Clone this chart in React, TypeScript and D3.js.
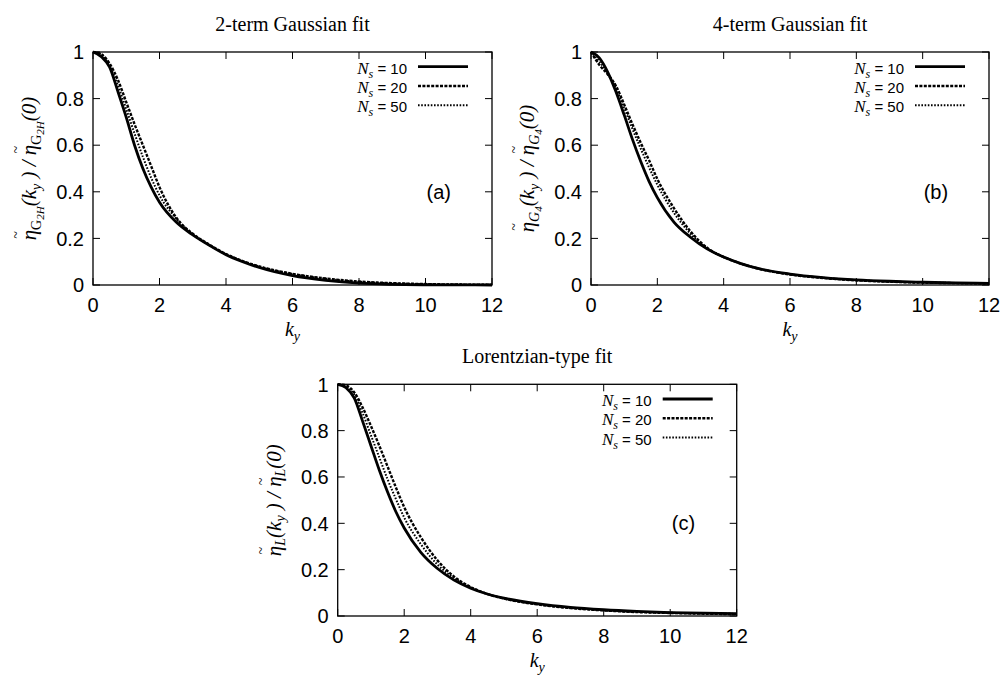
import React from 'react';
import * as d3 from 'd3';

// Wavenumber grid shared by every curve
const kGrid = [0, 0.25, 0.5, 0.75, 1, 1.25, 1.5, 1.75, 2, 2.5, 3, 3.5, 4, 4.5, 5, 6, 7, 8, 9, 10, 11, 12];

// (a) 2-term Gaussian fit
const gauss2Ns10 = [1, 0.98, 0.935, 0.83, 0.72, 0.6, 0.5, 0.42, 0.355, 0.27, 0.215, 0.17, 0.13, 0.1, 0.075, 0.04, 0.02, 0.008, 0.003, 0.001, 0.0003, 0.0001];
const gauss2Ns20 = [1, 0.99, 0.95, 0.88, 0.785, 0.69, 0.6, 0.51, 0.42, 0.29, 0.22, 0.173, 0.133, 0.103, 0.08, 0.048, 0.028, 0.015, 0.008, 0.004, 0.002, 0.001];
const gauss2Ns50 = [1, 0.99, 0.94, 0.855, 0.755, 0.65, 0.55, 0.46, 0.385, 0.285, 0.217, 0.171, 0.132, 0.102, 0.079, 0.047, 0.027, 0.014, 0.007, 0.0035, 0.0018, 0.001];

// (b) 4-term Gaussian fit
const gauss4Ns10 = [1, 0.975, 0.915, 0.83, 0.73, 0.625, 0.53, 0.445, 0.375, 0.27, 0.205, 0.155, 0.12, 0.093, 0.072, 0.047, 0.032, 0.022, 0.016, 0.012, 0.009, 0.007];
const gauss4Ns20 = [1, 0.945, 0.905, 0.855, 0.775, 0.69, 0.61, 0.535, 0.455, 0.33, 0.23, 0.16, 0.12, 0.093, 0.072, 0.045, 0.03, 0.02, 0.014, 0.01, 0.008, 0.006];
const gauss4Ns50 = [1, 0.96, 0.91, 0.845, 0.76, 0.67, 0.585, 0.505, 0.43, 0.31, 0.22, 0.158, 0.12, 0.093, 0.072, 0.046, 0.031, 0.021, 0.015, 0.011, 0.0085, 0.0065];

// (c) Lorentzian-type fit
const lorentzNs10 = [1, 0.985, 0.94, 0.84, 0.735, 0.63, 0.535, 0.45, 0.38, 0.275, 0.205, 0.155, 0.12, 0.095, 0.077, 0.053, 0.037, 0.027, 0.02, 0.015, 0.012, 0.01];
const lorentzNs20 = [1, 0.995, 0.965, 0.9, 0.82, 0.735, 0.645, 0.555, 0.47, 0.34, 0.24, 0.17, 0.125, 0.095, 0.075, 0.05, 0.034, 0.024, 0.017, 0.013, 0.01, 0.008];
const lorentzNs50 = [1, 0.99, 0.955, 0.875, 0.78, 0.685, 0.59, 0.505, 0.425, 0.31, 0.222, 0.163, 0.123, 0.095, 0.076, 0.051, 0.035, 0.025, 0.018, 0.014, 0.011, 0.009];

const xTickValues = [0, 2, 4, 6, 8, 10, 12];
const yTickValues = [0, 0.2, 0.4, 0.6, 0.8, 1];
const nsLabels = ['10', '20', '50'];
const panelTitles = ['2-term Gaussian fit', '4-term Gaussian fit', 'Lorentzian-type fit'];
const panelTags = ['(a)', '(b)', '(c)'];

const W = 1003;
const H = 675;
const SERIF = "'Liberation Serif', 'Times New Roman', serif";
const SANS = "'Liberation Sans', Arial, Helvetica, sans-serif";

const lineStyles = [
  { width: 2.8, dash: undefined as string | undefined },
  { width: 2.4, dash: '3 1.4' },
  { width: 2.0, dash: '1.6 1.6' },
];

type Seg = { t: string; size: number; italic?: boolean; sans?: boolean; shift?: number; dx?: number };

function Rich({ segs }: { segs: Seg[] }) {
  let prev = 0;
  return (
    <>
      {segs.map((s, i) => {
        const sh = s.shift ?? 0;
        const dy = sh - prev;
        prev = sh;
        return (
          <tspan
            key={i}
            dx={s.dx}
            dy={dy !== 0 ? dy : undefined}
            fontSize={s.size}
            fontStyle={s.italic ? 'italic' : 'normal'}
            fontFamily={s.sans ? SANS : SERIF}
          >
            {s.t}
          </tspan>
        );
      })}
    </>
  );
}

// eta with a tilde raised above it, followed by its subscript pieces
function etaTilde(sub: Seg[]): Seg[] {
  const [first, ...rest] = sub;
  return [
    { t: 'η', size: 21, italic: true },
    { t: '~', size: 14, shift: -15, dx: -8.8 },
    { ...first, dx: 1.2 },
    ...rest,
  ];
}

function yLabelSegs(kind: number): Seg[] {
  let sub: Seg[];
  if (kind === 0) {
    sub = [
      { t: 'G', size: 14, shift: 4.5 },
      { t: '2H', size: 11, italic: true, shift: 7.5 },
    ];
  } else if (kind === 1) {
    sub = [
      { t: 'G', size: 14, italic: true, shift: 4.5 },
      { t: '4', size: 11, italic: true, shift: 7.5 },
    ];
  } else {
    sub = [{ t: 'L', size: 14, italic: true, shift: 4.5 }];
  }
  return [
    ...etaTilde(sub),
    { t: '(', size: 21, italic: true, shift: 0 },
    { t: 'k', size: 21, italic: true },
    { t: 'y', size: 14, italic: true, shift: 4.5 },
    { t: '\u00a0) / ', size: 21, italic: true, shift: 0 },
    ...etaTilde(sub),
    { t: '(0)', size: 21, italic: true, shift: 0 },
  ];
}

const frames = [
  { left: 93, right: 492, top: 52, bottom: 285 },
  { left: 591, right: 989, top: 52, bottom: 285 },
  { left: 337.7, right: 736.7, top: 384.3, bottom: 616 },
];

const panelSeries = [
  [gauss2Ns10, gauss2Ns20, gauss2Ns50],
  [gauss4Ns10, gauss4Ns20, gauss4Ns50],
  [lorentzNs10, lorentzNs20, lorentzNs50],
];

function Panel({ idx }: { idx: number }) {
  const f = frames[idx];
  const x = d3.scaleLinear().domain([0, 12]).range([f.left, f.right]);
  const y = d3.scaleLinear().domain([0, 1]).range([f.bottom, f.top]);
  const line = d3
    .line<number>()
    .x((_, i) => x(kGrid[i]))
    .y((v) => y(v))
    .curve(d3.curveMonotoneX);
  const tick = 7;
  const cx = (f.left + f.right) / 2;
  const cy = (f.top + f.bottom) / 2;
  const fmt = d3.format('~g');

  return (
    <g>
      <text x={cx} y={f.top - 21} textAnchor="middle" fontFamily={SERIF} fontSize={20}>
        {panelTitles[idx]}
      </text>

      {/* curves */}
      {panelSeries[idx].map((vals, s) => (
        <path
          key={s}
          d={line(vals) || ''}
          fill="none"
          stroke="#000"
          strokeWidth={lineStyles[s].width}
          strokeDasharray={lineStyles[s].dash}
          strokeLinejoin="round"
        />
      ))}

      {/* frame */}
      <rect x={f.left} y={f.top} width={f.right - f.left} height={f.bottom - f.top} fill="none" stroke="#000" strokeWidth={1.3} />

      {/* ticks, mirrored on all sides */}
      {xTickValues.map((v) => (
        <g key={'x' + v}>
          <line x1={x(v)} x2={x(v)} y1={f.bottom} y2={f.bottom - tick} stroke="#000" strokeWidth={1} />
          <line x1={x(v)} x2={x(v)} y1={f.top} y2={f.top + tick} stroke="#000" strokeWidth={1} />
          <text x={x(v)} y={f.bottom + 27} textAnchor="middle" fontFamily={SANS} fontSize={20}>
            {fmt(v)}
          </text>
        </g>
      ))}
      {yTickValues.map((v) => (
        <g key={'y' + v}>
          <line x1={f.left} x2={f.left + tick} y1={y(v)} y2={y(v)} stroke="#000" strokeWidth={1} />
          <line x1={f.right} x2={f.right - tick} y1={y(v)} y2={y(v)} stroke="#000" strokeWidth={1} />
          <text x={f.left - 9} y={y(v)} dy="0.36em" textAnchor="end" fontFamily={SANS} fontSize={20}>
            {fmt(v)}
          </text>
        </g>
      ))}

      {/* legend */}
      {nsLabels.map((lab, s) => {
        const ly = f.top + 14.7 + s * 19.3;
        return (
          <g key={'l' + s}>
            <text x={f.right - 85} y={ly + 7} textAnchor="end" xmlSpace="preserve">
              <Rich
                segs={[
                  { t: 'N', size: 17, italic: true },
                  { t: 's', size: 12, italic: true, shift: 4 },
                  { t: ' = ' + lab, size: 15, sans: true, shift: 0 },
                ]}
              />
            </text>
            <line
              x1={f.right - 74}
              x2={f.right - 24}
              y1={ly}
              y2={ly}
              stroke="#000"
              strokeWidth={lineStyles[s].width}
              strokeDasharray={lineStyles[s].dash}
            />
          </g>
        );
      })}

      {/* panel tag */}
      <text x={x(10.4)} y={y(0.37)} textAnchor="middle" fontFamily={SANS} fontSize={20}>
        {panelTags[idx]}
      </text>

      {/* axis labels */}
      <text x={cx} y={f.bottom + 51} textAnchor="middle">
        <Rich
          segs={[
            { t: 'k', size: 20, italic: true },
            { t: 'y', size: 14, italic: true, shift: 5 },
          ]}
        />
      </text>
      <text transform={`translate(${f.left - 57},${cy}) rotate(-90)`} textAnchor="middle" xmlSpace="preserve">
        <Rich segs={yLabelSegs(idx)} />
      </text>
    </g>
  );
}

export default function App() {
  return (
    <svg width={W} height={H} viewBox={`0 0 ${W} ${H}`} style={{ position: 'absolute', left: 0, top: 0, background: '#fff' }}>
      <rect x={0} y={0} width={W} height={H} fill="#fff" />
      {[0, 1, 2].map((i) => (
        <Panel key={i} idx={i} />
      ))}
    </svg>
  );
}
